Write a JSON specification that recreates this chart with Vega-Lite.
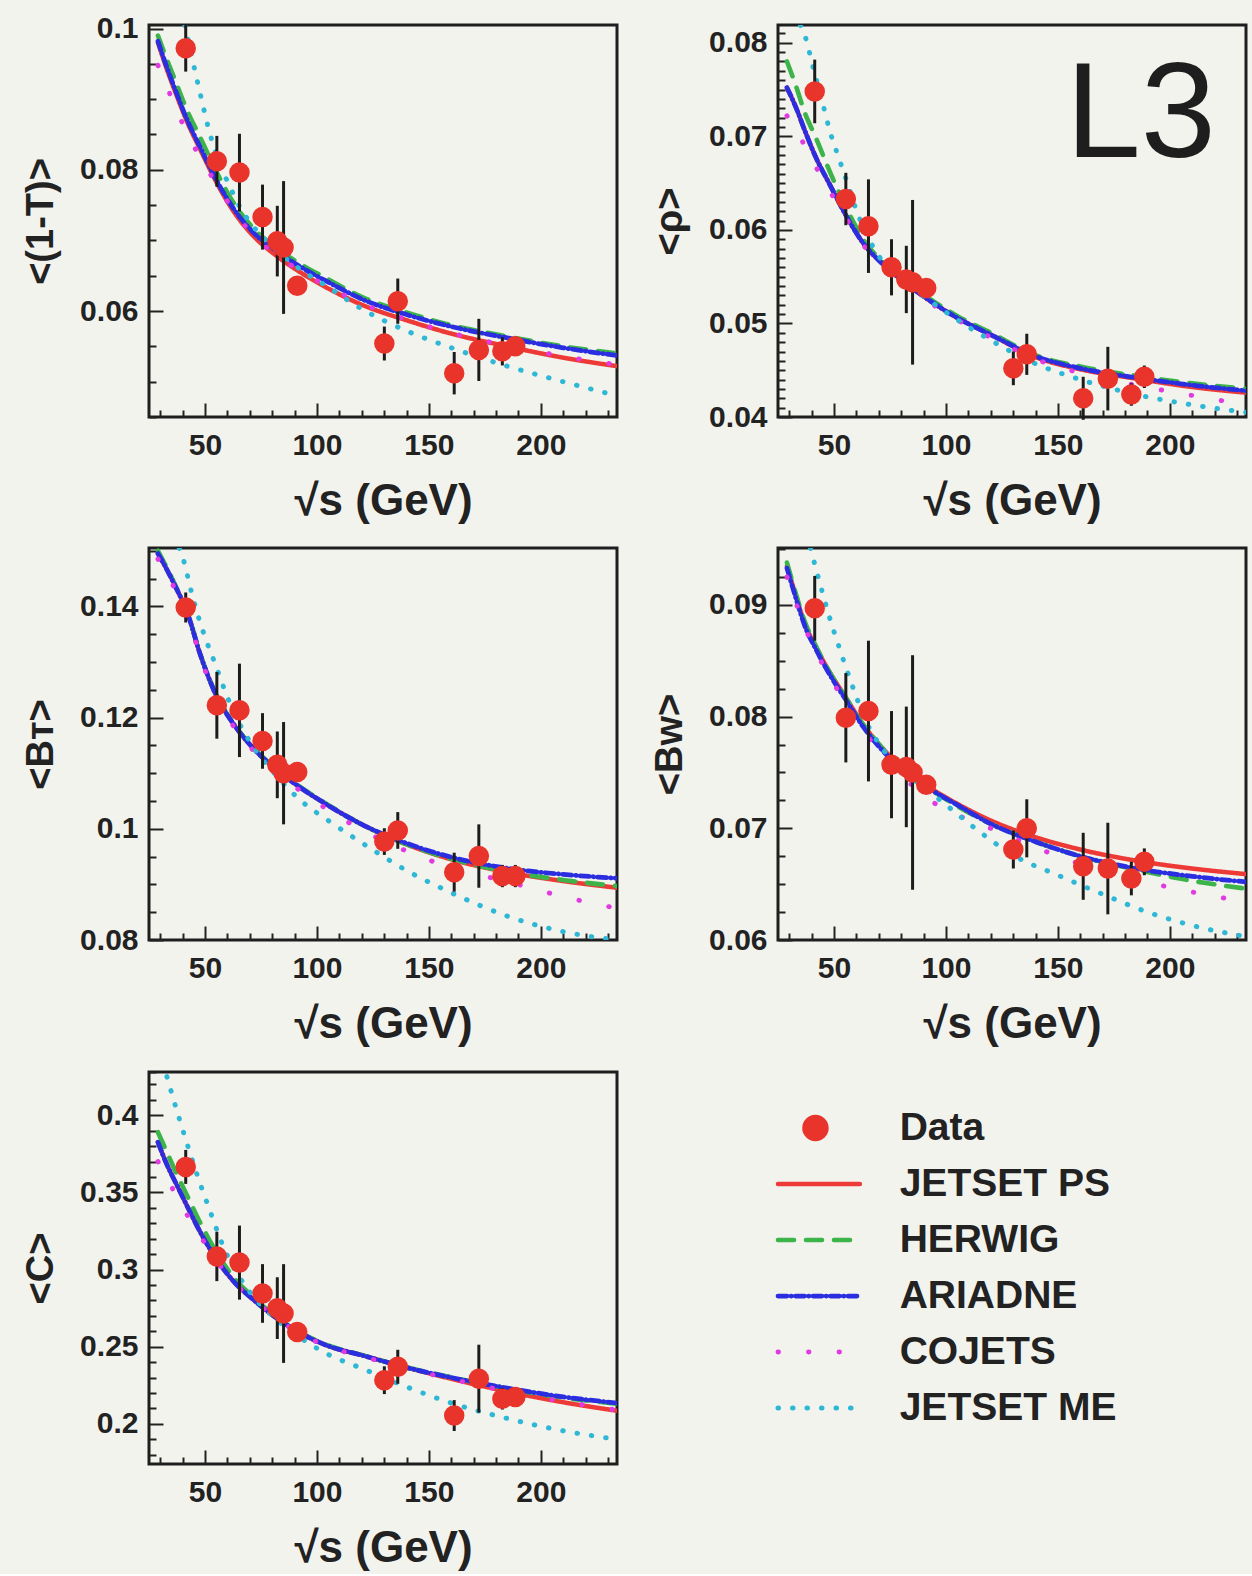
{
  "$schema": "https://vega.github.io/schema/vega-lite/v6.json",
  "background": "#f3f3ee",
  "padding": {"left": 20, "top": 12, "right": 5, "bottom": 2},
  "columns": 2,
  "spacing": {"row": 7, "column": 30},
  "config": {
    "view": {"stroke": "#1e1e1e", "strokeWidth": 3, "fill": "#f3f3ee"},
    "axis": {"domain": false, "grid": false, "labelFont": "Liberation Sans", "labelFontWeight": "bold", "labelFontSize": 30, "labelColor": "#222222", "titleFont": "Liberation Sans", "titleFontWeight": "bold", "titleColor": "#222222", "tickColor": "#222222", "tickWidth": 2, "labelFlush": false, "labelOverlap": false},
    "axisX": {"labelPadding": 27, "titleFontSize": 44, "titlePadding": 12},
    "axisY": {"labelPadding": 25, "minExtent": 72, "maxExtent": 72, "titleFontSize": 38, "titlePadding": 17}
  },
  "datasets": {
    "curves": [
      {"p":"T","m":"JETSET PS","x":29,"y":0.0980},{"p":"T","m":"JETSET PS","x":33,"y":0.0942},{"p":"T","m":"JETSET PS","x":37,"y":0.0908},{"p":"T","m":"JETSET PS","x":42,"y":0.0868},{"p":"T","m":"JETSET PS","x":48,"y":0.0828},{"p":"T","m":"JETSET PS","x":55,"y":0.0783},{"p":"T","m":"JETSET PS","x":63,"y":0.0740},{"p":"T","m":"JETSET PS","x":72,"y":0.0705},{"p":"T","m":"JETSET PS","x":82,"y":0.0678},{"p":"T","m":"JETSET PS","x":93,"y":0.0654},{"p":"T","m":"JETSET PS","x":105,"y":0.0632},{"p":"T","m":"JETSET PS","x":120,"y":0.0609},{"p":"T","m":"JETSET PS","x":140,"y":0.0587},{"p":"T","m":"JETSET PS","x":160,"y":0.0568},{"p":"T","m":"JETSET PS","x":185,"y":0.0550},{"p":"T","m":"JETSET PS","x":210,"y":0.0534},{"p":"T","m":"JETSET PS","x":234,"y":0.0522},
      {"p":"T","m":"HERWIG","x":29,"y":0.0990},{"p":"T","m":"HERWIG","x":33,"y":0.0956},{"p":"T","m":"HERWIG","x":37,"y":0.0924},{"p":"T","m":"HERWIG","x":42,"y":0.0884},{"p":"T","m":"HERWIG","x":48,"y":0.0845},{"p":"T","m":"HERWIG","x":55,"y":0.0798},{"p":"T","m":"HERWIG","x":63,"y":0.0752},{"p":"T","m":"HERWIG","x":72,"y":0.0716},{"p":"T","m":"HERWIG","x":82,"y":0.0689},{"p":"T","m":"HERWIG","x":93,"y":0.0666},{"p":"T","m":"HERWIG","x":105,"y":0.0645},{"p":"T","m":"HERWIG","x":120,"y":0.0620},{"p":"T","m":"HERWIG","x":140,"y":0.0598},{"p":"T","m":"HERWIG","x":160,"y":0.0580},{"p":"T","m":"HERWIG","x":185,"y":0.0564},{"p":"T","m":"HERWIG","x":210,"y":0.0550},{"p":"T","m":"HERWIG","x":234,"y":0.0540},
      {"p":"T","m":"ARIADNE","x":29,"y":0.0982},{"p":"T","m":"ARIADNE","x":33,"y":0.0945},{"p":"T","m":"ARIADNE","x":37,"y":0.0911},{"p":"T","m":"ARIADNE","x":42,"y":0.0871},{"p":"T","m":"ARIADNE","x":48,"y":0.0831},{"p":"T","m":"ARIADNE","x":55,"y":0.0786},{"p":"T","m":"ARIADNE","x":63,"y":0.0744},{"p":"T","m":"ARIADNE","x":72,"y":0.0710},{"p":"T","m":"ARIADNE","x":82,"y":0.0685},{"p":"T","m":"ARIADNE","x":93,"y":0.0662},{"p":"T","m":"ARIADNE","x":105,"y":0.0641},{"p":"T","m":"ARIADNE","x":120,"y":0.0617},{"p":"T","m":"ARIADNE","x":140,"y":0.0595},{"p":"T","m":"ARIADNE","x":160,"y":0.0578},{"p":"T","m":"ARIADNE","x":185,"y":0.0562},{"p":"T","m":"ARIADNE","x":210,"y":0.0548},{"p":"T","m":"ARIADNE","x":234,"y":0.0537},
      {"p":"T","m":"COJETS","x":29,"y":0.0948},{"p":"T","m":"COJETS","x":33,"y":0.0918},{"p":"T","m":"COJETS","x":37,"y":0.0886},{"p":"T","m":"COJETS","x":42,"y":0.0853},{"p":"T","m":"COJETS","x":48,"y":0.0816},{"p":"T","m":"COJETS","x":55,"y":0.0781},{"p":"T","m":"COJETS","x":63,"y":0.0741},{"p":"T","m":"COJETS","x":72,"y":0.0706},{"p":"T","m":"COJETS","x":82,"y":0.0679},{"p":"T","m":"COJETS","x":93,"y":0.0656},{"p":"T","m":"COJETS","x":105,"y":0.0634},{"p":"T","m":"COJETS","x":120,"y":0.0611},{"p":"T","m":"COJETS","x":140,"y":0.0588},{"p":"T","m":"COJETS","x":160,"y":0.0569},{"p":"T","m":"COJETS","x":185,"y":0.0551},{"p":"T","m":"COJETS","x":210,"y":0.0536},{"p":"T","m":"COJETS","x":234,"y":0.0524},
      {"p":"T","m":"JETSET ME","x":41,"y":0.1005},{"p":"T","m":"JETSET ME","x":44.6,"y":0.0953},{"p":"T","m":"JETSET ME","x":48,"y":0.0906},{"p":"T","m":"JETSET ME","x":51.3,"y":0.0862},{"p":"T","m":"JETSET ME","x":55,"y":0.0822},{"p":"T","m":"JETSET ME","x":61,"y":0.0777},{"p":"T","m":"JETSET ME","x":66,"y":0.0745},{"p":"T","m":"JETSET ME","x":72,"y":0.0718},{"p":"T","m":"JETSET ME","x":82,"y":0.0686},{"p":"T","m":"JETSET ME","x":93,"y":0.0658},{"p":"T","m":"JETSET ME","x":105,"y":0.0634},{"p":"T","m":"JETSET ME","x":120,"y":0.0603},{"p":"T","m":"JETSET ME","x":140,"y":0.0572},{"p":"T","m":"JETSET ME","x":160,"y":0.0548},{"p":"T","m":"JETSET ME","x":185,"y":0.0522},{"p":"T","m":"JETSET ME","x":210,"y":0.0500},{"p":"T","m":"JETSET ME","x":234,"y":0.0480},

      {"p":"R","m":"JETSET PS","x":29,"y":0.0752},{"p":"R","m":"JETSET PS","x":33,"y":0.0731},{"p":"R","m":"JETSET PS","x":37,"y":0.0706},{"p":"R","m":"JETSET PS","x":42,"y":0.0677},{"p":"R","m":"JETSET PS","x":48,"y":0.0649},{"p":"R","m":"JETSET PS","x":55,"y":0.0617},{"p":"R","m":"JETSET PS","x":63,"y":0.0586},{"p":"R","m":"JETSET PS","x":72,"y":0.0563},{"p":"R","m":"JETSET PS","x":82,"y":0.0543},{"p":"R","m":"JETSET PS","x":93,"y":0.0524},{"p":"R","m":"JETSET PS","x":105,"y":0.0506},{"p":"R","m":"JETSET PS","x":120,"y":0.0488},{"p":"R","m":"JETSET PS","x":140,"y":0.0464},{"p":"R","m":"JETSET PS","x":160,"y":0.0451},{"p":"R","m":"JETSET PS","x":185,"y":0.0441},{"p":"R","m":"JETSET PS","x":210,"y":0.0432},{"p":"R","m":"JETSET PS","x":234,"y":0.0426},
      {"p":"R","m":"HERWIG","x":29,"y":0.0780},{"p":"R","m":"HERWIG","x":33,"y":0.0754},{"p":"R","m":"HERWIG","x":37,"y":0.0725},{"p":"R","m":"HERWIG","x":42,"y":0.0698},{"p":"R","m":"HERWIG","x":48,"y":0.0663},{"p":"R","m":"HERWIG","x":55,"y":0.0626},{"p":"R","m":"HERWIG","x":63,"y":0.0590},{"p":"R","m":"HERWIG","x":72,"y":0.0565},{"p":"R","m":"HERWIG","x":82,"y":0.0545},{"p":"R","m":"HERWIG","x":93,"y":0.0526},{"p":"R","m":"HERWIG","x":105,"y":0.0508},{"p":"R","m":"HERWIG","x":120,"y":0.0490},{"p":"R","m":"HERWIG","x":140,"y":0.0466},{"p":"R","m":"HERWIG","x":160,"y":0.0454},{"p":"R","m":"HERWIG","x":185,"y":0.0444},{"p":"R","m":"HERWIG","x":210,"y":0.0436},{"p":"R","m":"HERWIG","x":234,"y":0.0430},
      {"p":"R","m":"ARIADNE","x":29,"y":0.0752},{"p":"R","m":"ARIADNE","x":33,"y":0.0731},{"p":"R","m":"ARIADNE","x":37,"y":0.0706},{"p":"R","m":"ARIADNE","x":42,"y":0.0677},{"p":"R","m":"ARIADNE","x":48,"y":0.0649},{"p":"R","m":"ARIADNE","x":55,"y":0.0617},{"p":"R","m":"ARIADNE","x":63,"y":0.0586},{"p":"R","m":"ARIADNE","x":72,"y":0.0563},{"p":"R","m":"ARIADNE","x":82,"y":0.0543},{"p":"R","m":"ARIADNE","x":93,"y":0.0524},{"p":"R","m":"ARIADNE","x":105,"y":0.0506},{"p":"R","m":"ARIADNE","x":120,"y":0.0488},{"p":"R","m":"ARIADNE","x":140,"y":0.0465},{"p":"R","m":"ARIADNE","x":160,"y":0.0452},{"p":"R","m":"ARIADNE","x":185,"y":0.0442},{"p":"R","m":"ARIADNE","x":210,"y":0.0434},{"p":"R","m":"ARIADNE","x":234,"y":0.0428},
      {"p":"R","m":"COJETS","x":29,"y":0.0722},{"p":"R","m":"COJETS","x":33,"y":0.0706},{"p":"R","m":"COJETS","x":37,"y":0.0690},{"p":"R","m":"COJETS","x":42,"y":0.0667},{"p":"R","m":"COJETS","x":48,"y":0.0642},{"p":"R","m":"COJETS","x":55,"y":0.0614},{"p":"R","m":"COJETS","x":63,"y":0.0584},{"p":"R","m":"COJETS","x":72,"y":0.0561},{"p":"R","m":"COJETS","x":82,"y":0.0541},{"p":"R","m":"COJETS","x":93,"y":0.0522},{"p":"R","m":"COJETS","x":105,"y":0.0504},{"p":"R","m":"COJETS","x":120,"y":0.0485},{"p":"R","m":"COJETS","x":140,"y":0.0462},{"p":"R","m":"COJETS","x":160,"y":0.0447},{"p":"R","m":"COJETS","x":185,"y":0.0434},{"p":"R","m":"COJETS","x":210,"y":0.0423},{"p":"R","m":"COJETS","x":234,"y":0.0413},
      {"p":"R","m":"JETSET ME","x":35,"y":0.0819},{"p":"R","m":"JETSET ME","x":38,"y":0.0800},{"p":"R","m":"JETSET ME","x":40,"y":0.0780},{"p":"R","m":"JETSET ME","x":42,"y":0.0762},{"p":"R","m":"JETSET ME","x":45,"y":0.0735},{"p":"R","m":"JETSET ME","x":48,"y":0.0707},{"p":"R","m":"JETSET ME","x":52,"y":0.0678},{"p":"R","m":"JETSET ME","x":56,"y":0.0650},{"p":"R","m":"JETSET ME","x":60,"y":0.0621},{"p":"R","m":"JETSET ME","x":65,"y":0.0593},{"p":"R","m":"JETSET ME","x":70,"y":0.0572},{"p":"R","m":"JETSET ME","x":76,"y":0.0556},{"p":"R","m":"JETSET ME","x":82,"y":0.0544},{"p":"R","m":"JETSET ME","x":93,"y":0.0524},{"p":"R","m":"JETSET ME","x":105,"y":0.0504},{"p":"R","m":"JETSET ME","x":120,"y":0.0482},{"p":"R","m":"JETSET ME","x":140,"y":0.0457},{"p":"R","m":"JETSET ME","x":160,"y":0.0440},{"p":"R","m":"JETSET ME","x":185,"y":0.0424},{"p":"R","m":"JETSET ME","x":210,"y":0.0413},{"p":"R","m":"JETSET ME","x":234,"y":0.0405},

      {"p":"BT","m":"JETSET PS","x":29,"y":0.1495},{"p":"BT","m":"JETSET PS","x":33,"y":0.1466},{"p":"BT","m":"JETSET PS","x":37,"y":0.1434},{"p":"BT","m":"JETSET PS","x":42,"y":0.1390},{"p":"BT","m":"JETSET PS","x":48,"y":0.1312},{"p":"BT","m":"JETSET PS","x":55,"y":0.1240},{"p":"BT","m":"JETSET PS","x":63,"y":0.1187},{"p":"BT","m":"JETSET PS","x":72,"y":0.1143},{"p":"BT","m":"JETSET PS","x":82,"y":0.1106},{"p":"BT","m":"JETSET PS","x":93,"y":0.1073},{"p":"BT","m":"JETSET PS","x":105,"y":0.1042},{"p":"BT","m":"JETSET PS","x":120,"y":0.1008},{"p":"BT","m":"JETSET PS","x":140,"y":0.0972},{"p":"BT","m":"JETSET PS","x":160,"y":0.0945},{"p":"BT","m":"JETSET PS","x":185,"y":0.0922},{"p":"BT","m":"JETSET PS","x":210,"y":0.0906},{"p":"BT","m":"JETSET PS","x":234,"y":0.0894},
      {"p":"BT","m":"HERWIG","x":29,"y":0.1500},{"p":"BT","m":"HERWIG","x":33,"y":0.1469},{"p":"BT","m":"HERWIG","x":37,"y":0.1436},{"p":"BT","m":"HERWIG","x":42,"y":0.1391},{"p":"BT","m":"HERWIG","x":48,"y":0.1313},{"p":"BT","m":"HERWIG","x":55,"y":0.1241},{"p":"BT","m":"HERWIG","x":63,"y":0.1188},{"p":"BT","m":"HERWIG","x":72,"y":0.1144},{"p":"BT","m":"HERWIG","x":82,"y":0.1107},{"p":"BT","m":"HERWIG","x":93,"y":0.1074},{"p":"BT","m":"HERWIG","x":105,"y":0.1043},{"p":"BT","m":"HERWIG","x":120,"y":0.1008},{"p":"BT","m":"HERWIG","x":140,"y":0.0972},{"p":"BT","m":"HERWIG","x":160,"y":0.0946},{"p":"BT","m":"HERWIG","x":185,"y":0.0923},{"p":"BT","m":"HERWIG","x":210,"y":0.0908},{"p":"BT","m":"HERWIG","x":234,"y":0.0897},
      {"p":"BT","m":"ARIADNE","x":29,"y":0.1495},{"p":"BT","m":"ARIADNE","x":33,"y":0.1466},{"p":"BT","m":"ARIADNE","x":37,"y":0.1434},{"p":"BT","m":"ARIADNE","x":42,"y":0.1390},{"p":"BT","m":"ARIADNE","x":48,"y":0.1312},{"p":"BT","m":"ARIADNE","x":55,"y":0.1240},{"p":"BT","m":"ARIADNE","x":63,"y":0.1187},{"p":"BT","m":"ARIADNE","x":72,"y":0.1143},{"p":"BT","m":"ARIADNE","x":82,"y":0.1106},{"p":"BT","m":"ARIADNE","x":93,"y":0.1073},{"p":"BT","m":"ARIADNE","x":105,"y":0.1042},{"p":"BT","m":"ARIADNE","x":120,"y":0.1008},{"p":"BT","m":"ARIADNE","x":140,"y":0.0974},{"p":"BT","m":"ARIADNE","x":160,"y":0.0949},{"p":"BT","m":"ARIADNE","x":185,"y":0.0929},{"p":"BT","m":"ARIADNE","x":210,"y":0.0918},{"p":"BT","m":"ARIADNE","x":234,"y":0.0911},
      {"p":"BT","m":"COJETS","x":29,"y":0.1485},{"p":"BT","m":"COJETS","x":33,"y":0.1458},{"p":"BT","m":"COJETS","x":37,"y":0.1428},{"p":"BT","m":"COJETS","x":42,"y":0.1386},{"p":"BT","m":"COJETS","x":48,"y":0.1308},{"p":"BT","m":"COJETS","x":55,"y":0.1236},{"p":"BT","m":"COJETS","x":63,"y":0.1183},{"p":"BT","m":"COJETS","x":72,"y":0.1139},{"p":"BT","m":"COJETS","x":82,"y":0.1101},{"p":"BT","m":"COJETS","x":93,"y":0.1067},{"p":"BT","m":"COJETS","x":105,"y":0.1034},{"p":"BT","m":"COJETS","x":120,"y":0.0998},{"p":"BT","m":"COJETS","x":140,"y":0.0960},{"p":"BT","m":"COJETS","x":160,"y":0.0930},{"p":"BT","m":"COJETS","x":185,"y":0.0905},{"p":"BT","m":"COJETS","x":210,"y":0.0878},{"p":"BT","m":"COJETS","x":234,"y":0.0857},
      {"p":"BT","m":"JETSET ME","x":38.5,"y":0.1505},{"p":"BT","m":"JETSET ME","x":40,"y":0.1489},{"p":"BT","m":"JETSET ME","x":44,"y":0.1425},{"p":"BT","m":"JETSET ME","x":47,"y":0.1382},{"p":"BT","m":"JETSET ME","x":50,"y":0.1345},{"p":"BT","m":"JETSET ME","x":54.5,"y":0.1297},{"p":"BT","m":"JETSET ME","x":59.4,"y":0.1243},{"p":"BT","m":"JETSET ME","x":65,"y":0.1192},{"p":"BT","m":"JETSET ME","x":72,"y":0.1145},{"p":"BT","m":"JETSET ME","x":82,"y":0.1095},{"p":"BT","m":"JETSET ME","x":93,"y":0.1050},{"p":"BT","m":"JETSET ME","x":105,"y":0.1015},{"p":"BT","m":"JETSET ME","x":120,"y":0.0975},{"p":"BT","m":"JETSET ME","x":140,"y":0.0925},{"p":"BT","m":"JETSET ME","x":160,"y":0.0885},{"p":"BT","m":"JETSET ME","x":185,"y":0.0843},{"p":"BT","m":"JETSET ME","x":210,"y":0.0815},{"p":"BT","m":"JETSET ME","x":234,"y":0.0800},

      {"p":"BW","m":"JETSET PS","x":29,"y":0.0935},{"p":"BW","m":"JETSET PS","x":33,"y":0.0908},{"p":"BW","m":"JETSET PS","x":37,"y":0.0883},{"p":"BW","m":"JETSET PS","x":42,"y":0.0862},{"p":"BW","m":"JETSET PS","x":48,"y":0.0840},{"p":"BW","m":"JETSET PS","x":55,"y":0.0818},{"p":"BW","m":"JETSET PS","x":63,"y":0.0793},{"p":"BW","m":"JETSET PS","x":72,"y":0.0771},{"p":"BW","m":"JETSET PS","x":82,"y":0.0751},{"p":"BW","m":"JETSET PS","x":93,"y":0.0736},{"p":"BW","m":"JETSET PS","x":105,"y":0.0722},{"p":"BW","m":"JETSET PS","x":120,"y":0.0707},{"p":"BW","m":"JETSET PS","x":140,"y":0.0692},{"p":"BW","m":"JETSET PS","x":160,"y":0.0681},{"p":"BW","m":"JETSET PS","x":185,"y":0.0671},{"p":"BW","m":"JETSET PS","x":210,"y":0.0664},{"p":"BW","m":"JETSET PS","x":234,"y":0.0659},
      {"p":"BW","m":"HERWIG","x":29,"y":0.0938},{"p":"BW","m":"HERWIG","x":33,"y":0.0910},{"p":"BW","m":"HERWIG","x":37,"y":0.0885},{"p":"BW","m":"HERWIG","x":42,"y":0.0863},{"p":"BW","m":"HERWIG","x":48,"y":0.0840},{"p":"BW","m":"HERWIG","x":55,"y":0.0818},{"p":"BW","m":"HERWIG","x":63,"y":0.0793},{"p":"BW","m":"HERWIG","x":72,"y":0.0771},{"p":"BW","m":"HERWIG","x":82,"y":0.0751},{"p":"BW","m":"HERWIG","x":93,"y":0.0735},{"p":"BW","m":"HERWIG","x":105,"y":0.0720},{"p":"BW","m":"HERWIG","x":120,"y":0.0704},{"p":"BW","m":"HERWIG","x":140,"y":0.0688},{"p":"BW","m":"HERWIG","x":160,"y":0.0675},{"p":"BW","m":"HERWIG","x":185,"y":0.0663},{"p":"BW","m":"HERWIG","x":210,"y":0.0653},{"p":"BW","m":"HERWIG","x":234,"y":0.0646},
      {"p":"BW","m":"ARIADNE","x":29,"y":0.0933},{"p":"BW","m":"ARIADNE","x":33,"y":0.0906},{"p":"BW","m":"ARIADNE","x":37,"y":0.0881},{"p":"BW","m":"ARIADNE","x":42,"y":0.0860},{"p":"BW","m":"ARIADNE","x":48,"y":0.0838},{"p":"BW","m":"ARIADNE","x":55,"y":0.0816},{"p":"BW","m":"ARIADNE","x":63,"y":0.0791},{"p":"BW","m":"ARIADNE","x":72,"y":0.0769},{"p":"BW","m":"ARIADNE","x":82,"y":0.0750},{"p":"BW","m":"ARIADNE","x":93,"y":0.0735},{"p":"BW","m":"ARIADNE","x":105,"y":0.0721},{"p":"BW","m":"ARIADNE","x":120,"y":0.0704},{"p":"BW","m":"ARIADNE","x":140,"y":0.0688},{"p":"BW","m":"ARIADNE","x":160,"y":0.0675},{"p":"BW","m":"ARIADNE","x":185,"y":0.0664},{"p":"BW","m":"ARIADNE","x":210,"y":0.0657},{"p":"BW","m":"ARIADNE","x":234,"y":0.0652},
      {"p":"BW","m":"COJETS","x":29,"y":0.0925},{"p":"BW","m":"COJETS","x":33,"y":0.0902},{"p":"BW","m":"COJETS","x":37,"y":0.0880},{"p":"BW","m":"COJETS","x":42,"y":0.0858},{"p":"BW","m":"COJETS","x":48,"y":0.0836},{"p":"BW","m":"COJETS","x":55,"y":0.0813},{"p":"BW","m":"COJETS","x":63,"y":0.0788},{"p":"BW","m":"COJETS","x":72,"y":0.0765},{"p":"BW","m":"COJETS","x":82,"y":0.0744},{"p":"BW","m":"COJETS","x":93,"y":0.0725},{"p":"BW","m":"COJETS","x":105,"y":0.0712},{"p":"BW","m":"COJETS","x":120,"y":0.0700},{"p":"BW","m":"COJETS","x":140,"y":0.0683},{"p":"BW","m":"COJETS","x":160,"y":0.0668},{"p":"BW","m":"COJETS","x":185,"y":0.0654},{"p":"BW","m":"COJETS","x":210,"y":0.0643},{"p":"BW","m":"COJETS","x":234,"y":0.0634},
      {"p":"BW","m":"JETSET ME","x":39.5,"y":0.0951},{"p":"BW","m":"JETSET ME","x":42,"y":0.0932},{"p":"BW","m":"JETSET ME","x":45,"y":0.0910},{"p":"BW","m":"JETSET ME","x":48,"y":0.0889},{"p":"BW","m":"JETSET ME","x":52,"y":0.0864},{"p":"BW","m":"JETSET ME","x":55,"y":0.0846},{"p":"BW","m":"JETSET ME","x":59.4,"y":0.0821},{"p":"BW","m":"JETSET ME","x":64,"y":0.0797},{"p":"BW","m":"JETSET ME","x":70,"y":0.0776},{"p":"BW","m":"JETSET ME","x":80,"y":0.0753},{"p":"BW","m":"JETSET ME","x":90,"y":0.0737},{"p":"BW","m":"JETSET ME","x":100,"y":0.0721},{"p":"BW","m":"JETSET ME","x":115,"y":0.0697},{"p":"BW","m":"JETSET ME","x":130,"y":0.0676},{"p":"BW","m":"JETSET ME","x":150,"y":0.0658},{"p":"BW","m":"JETSET ME","x":170,"y":0.0641},{"p":"BW","m":"JETSET ME","x":190,"y":0.0625},{"p":"BW","m":"JETSET ME","x":210,"y":0.0613},{"p":"BW","m":"JETSET ME","x":234,"y":0.0603},

      {"p":"C","m":"JETSET PS","x":29,"y":0.3825},{"p":"C","m":"JETSET PS","x":33,"y":0.3680},{"p":"C","m":"JETSET PS","x":37,"y":0.3560},{"p":"C","m":"JETSET PS","x":42,"y":0.3412},{"p":"C","m":"JETSET PS","x":48,"y":0.3240},{"p":"C","m":"JETSET PS","x":55,"y":0.3070},{"p":"C","m":"JETSET PS","x":63,"y":0.2920},{"p":"C","m":"JETSET PS","x":72,"y":0.2800},{"p":"C","m":"JETSET PS","x":82,"y":0.2685},{"p":"C","m":"JETSET PS","x":93,"y":0.2585},{"p":"C","m":"JETSET PS","x":105,"y":0.2505},{"p":"C","m":"JETSET PS","x":120,"y":0.2445},{"p":"C","m":"JETSET PS","x":140,"y":0.2365},{"p":"C","m":"JETSET PS","x":160,"y":0.2292},{"p":"C","m":"JETSET PS","x":185,"y":0.2210},{"p":"C","m":"JETSET PS","x":210,"y":0.2140},{"p":"C","m":"JETSET PS","x":234,"y":0.2085},
      {"p":"C","m":"HERWIG","x":29,"y":0.3890},{"p":"C","m":"HERWIG","x":33,"y":0.3760},{"p":"C","m":"HERWIG","x":37,"y":0.3630},{"p":"C","m":"HERWIG","x":42,"y":0.3480},{"p":"C","m":"HERWIG","x":48,"y":0.3300},{"p":"C","m":"HERWIG","x":55,"y":0.3115},{"p":"C","m":"HERWIG","x":63,"y":0.2945},{"p":"C","m":"HERWIG","x":72,"y":0.2815},{"p":"C","m":"HERWIG","x":82,"y":0.2690},{"p":"C","m":"HERWIG","x":93,"y":0.2588},{"p":"C","m":"HERWIG","x":105,"y":0.2508},{"p":"C","m":"HERWIG","x":120,"y":0.2447},{"p":"C","m":"HERWIG","x":140,"y":0.2367},{"p":"C","m":"HERWIG","x":160,"y":0.2302},{"p":"C","m":"HERWIG","x":185,"y":0.2228},{"p":"C","m":"HERWIG","x":210,"y":0.2170},{"p":"C","m":"HERWIG","x":234,"y":0.2130},
      {"p":"C","m":"ARIADNE","x":29,"y":0.3825},{"p":"C","m":"ARIADNE","x":33,"y":0.3680},{"p":"C","m":"ARIADNE","x":37,"y":0.3560},{"p":"C","m":"ARIADNE","x":42,"y":0.3412},{"p":"C","m":"ARIADNE","x":48,"y":0.3240},{"p":"C","m":"ARIADNE","x":55,"y":0.3070},{"p":"C","m":"ARIADNE","x":63,"y":0.2920},{"p":"C","m":"ARIADNE","x":72,"y":0.2800},{"p":"C","m":"ARIADNE","x":82,"y":0.2685},{"p":"C","m":"ARIADNE","x":93,"y":0.2585},{"p":"C","m":"ARIADNE","x":105,"y":0.2505},{"p":"C","m":"ARIADNE","x":120,"y":0.2445},{"p":"C","m":"ARIADNE","x":140,"y":0.2365},{"p":"C","m":"ARIADNE","x":160,"y":0.2300},{"p":"C","m":"ARIADNE","x":185,"y":0.2232},{"p":"C","m":"ARIADNE","x":210,"y":0.2175},{"p":"C","m":"ARIADNE","x":234,"y":0.2135},
      {"p":"C","m":"COJETS","x":29,"y":0.3700},{"p":"C","m":"COJETS","x":33,"y":0.3600},{"p":"C","m":"COJETS","x":37,"y":0.3480},{"p":"C","m":"COJETS","x":42,"y":0.3355},{"p":"C","m":"COJETS","x":48,"y":0.3215},{"p":"C","m":"COJETS","x":55,"y":0.3060},{"p":"C","m":"COJETS","x":63,"y":0.2915},{"p":"C","m":"COJETS","x":72,"y":0.2798},{"p":"C","m":"COJETS","x":82,"y":0.2683},{"p":"C","m":"COJETS","x":93,"y":0.2580},{"p":"C","m":"COJETS","x":105,"y":0.2500},{"p":"C","m":"COJETS","x":120,"y":0.2438},{"p":"C","m":"COJETS","x":140,"y":0.2360},{"p":"C","m":"COJETS","x":160,"y":0.2290},{"p":"C","m":"COJETS","x":185,"y":0.2212},{"p":"C","m":"COJETS","x":210,"y":0.2145},{"p":"C","m":"COJETS","x":234,"y":0.2090},
      {"p":"C","m":"JETSET ME","x":33,"y":0.4250},{"p":"C","m":"JETSET ME","x":36,"y":0.4100},{"p":"C","m":"JETSET ME","x":39,"y":0.3955},{"p":"C","m":"JETSET ME","x":42,"y":0.3815},{"p":"C","m":"JETSET ME","x":45,"y":0.3680},{"p":"C","m":"JETSET ME","x":48,"y":0.3550},{"p":"C","m":"JETSET ME","x":52,"y":0.3390},{"p":"C","m":"JETSET ME","x":56,"y":0.3230},{"p":"C","m":"JETSET ME","x":60,"y":0.3090},{"p":"C","m":"JETSET ME","x":65,"y":0.2960},{"p":"C","m":"JETSET ME","x":70,"y":0.2855},{"p":"C","m":"JETSET ME","x":80,"y":0.2700},{"p":"C","m":"JETSET ME","x":90,"y":0.2585},{"p":"C","m":"JETSET ME","x":105,"y":0.2450},{"p":"C","m":"JETSET ME","x":120,"y":0.2360},{"p":"C","m":"JETSET ME","x":140,"y":0.2240},{"p":"C","m":"JETSET ME","x":160,"y":0.2135},{"p":"C","m":"JETSET ME","x":185,"y":0.2035},{"p":"C","m":"JETSET ME","x":210,"y":0.1955},{"p":"C","m":"JETSET ME","x":234,"y":0.1900}
    ],
    "pts": [
      {"p":"T","x":41.4,"y":0.0972,"e":0.0033},{"p":"T","x":55.3,"y":0.0812,"e":0.0036},{"p":"T","x":65.4,"y":0.0796,"e":0.0055},{"p":"T","x":75.7,"y":0.0733,"e":0.0046},{"p":"T","x":82.3,"y":0.0699,"e":0.005},{"p":"T","x":85.1,"y":0.0690,"e":0.0094},{"p":"T","x":91.2,"y":0.0636,"e":0.0008},{"p":"T","x":130.1,"y":0.0554,"e":0.0024},{"p":"T","x":136.1,"y":0.0614,"e":0.0032},{"p":"T","x":161.3,"y":0.0512,"e":0.003},{"p":"T","x":172.3,"y":0.0545,"e":0.0044},{"p":"T","x":182.8,"y":0.0543,"e":0.002},{"p":"T","x":188.6,"y":0.0550,"e":0.0012},
      {"p":"R","x":41.4,"y":0.0748,"e":0.0034},{"p":"R","x":55.3,"y":0.0633,"e":0.0028},{"p":"R","x":65.4,"y":0.0604,"e":0.005},{"p":"R","x":75.7,"y":0.0560,"e":0.003},{"p":"R","x":82.3,"y":0.0547,"e":0.0036},{"p":"R","x":85.1,"y":0.0544,"e":0.0088},{"p":"R","x":91.2,"y":0.0538,"e":0.0008},{"p":"R","x":130.1,"y":0.0452,"e":0.0018},{"p":"R","x":136.1,"y":0.0467,"e":0.0022},{"p":"R","x":161.3,"y":0.0420,"e":0.0023},{"p":"R","x":172.3,"y":0.0441,"e":0.0034},{"p":"R","x":182.8,"y":0.0424,"e":0.0012},{"p":"R","x":188.6,"y":0.0443,"e":0.0012},
      {"p":"BT","x":41.4,"y":0.1398,"e":0.0027},{"p":"BT","x":55.3,"y":0.1222,"e":0.006},{"p":"BT","x":65.4,"y":0.1213,"e":0.0084},{"p":"BT","x":75.7,"y":0.1158,"e":0.005},{"p":"BT","x":82.3,"y":0.1115,"e":0.006},{"p":"BT","x":85.1,"y":0.1100,"e":0.0092},{"p":"BT","x":91.2,"y":0.1102,"e":0.0012},{"p":"BT","x":130.1,"y":0.0977,"e":0.0024},{"p":"BT","x":136.1,"y":0.0997,"e":0.0033},{"p":"BT","x":161.3,"y":0.0922,"e":0.0035},{"p":"BT","x":172.3,"y":0.0951,"e":0.0057},{"p":"BT","x":182.8,"y":0.0915,"e":0.002},{"p":"BT","x":188.6,"y":0.0915,"e":0.002},
      {"p":"BW","x":41.4,"y":0.0897,"e":0.0029},{"p":"BW","x":55.3,"y":0.0799,"e":0.004},{"p":"BW","x":65.4,"y":0.0805,"e":0.0063},{"p":"BW","x":75.7,"y":0.0757,"e":0.0048},{"p":"BW","x":82.3,"y":0.0755,"e":0.0054},{"p":"BW","x":85.1,"y":0.0750,"e":0.0105},{"p":"BW","x":91.2,"y":0.0739,"e":0.0008},{"p":"BW","x":130.1,"y":0.0681,"e":0.0017},{"p":"BW","x":136.1,"y":0.0700,"e":0.0026},{"p":"BW","x":161.3,"y":0.0666,"e":0.003},{"p":"BW","x":172.3,"y":0.0664,"e":0.0041},{"p":"BW","x":182.8,"y":0.0655,"e":0.0015},{"p":"BW","x":188.6,"y":0.0670,"e":0.0012},
      {"p":"C","x":41.4,"y":0.3665,"e":0.011},{"p":"C","x":55.3,"y":0.3085,"e":0.016},{"p":"C","x":65.4,"y":0.3045,"e":0.024},{"p":"C","x":75.7,"y":0.2845,"e":0.019},{"p":"C","x":82.3,"y":0.2750,"e":0.02},{"p":"C","x":85.1,"y":0.2715,"e":0.032},{"p":"C","x":91.2,"y":0.2595,"e":0.003},{"p":"C","x":130.1,"y":0.2283,"e":0.009},{"p":"C","x":136.1,"y":0.2370,"e":0.011},{"p":"C","x":161.3,"y":0.2054,"e":0.01},{"p":"C","x":172.3,"y":0.2293,"e":0.022},{"p":"C","x":182.8,"y":0.2163,"e":0.007},{"p":"C","x":188.6,"y":0.2174,"e":0.005}
    ],
    "leg": [
      {"m":"Data"},{"m":"JETSET PS"},{"m":"HERWIG"},{"m":"ARIADNE"},{"m":"COJETS"},{"m":"JETSET ME"}
    ],
    "tag": [{"t":"L3"}]
  },
  "concat": [
    {
      "width": 468, "height": 392,
      "encoding": {
        "x": {"field": "x", "type": "quantitative", "scale": {"domain": [25, 234], "nice": false, "zero": false},
          "axis": {"values": [30,40,50,60,70,80,90,100,110,120,130,140,150,160,170,180,190,200,210,220,230], "labelExpr": "datum.value % 50 === 0 ? format(datum.value, 'd') : ''", "tickSize": {"condition": {"test": "datum.value % 50 === 0", "value": -14}, "value": -7}, "title": "√s  (GeV)"}},
        "y": {"field": "y", "type": "quantitative", "scale": {"domain": [0.045, 0.1005], "nice": false, "zero": false},
          "axis": {"values": [0.045,0.05,0.055,0.06,0.065,0.07,0.075,0.08,0.085,0.09,0.095,0.1], "labelExpr": "indexof([0.06,0.08,0.1], datum.value) >= 0 ? format(datum.value, '~g') : ''", "tickSize": {"condition": {"test": "indexof([0.06,0.08,0.1], datum.value) >= 0", "value": -14}, "value": -7}, "title": "<(1-T)>"}}
      },
      "layer": [
        {"data": {"name": "curves"}, "transform": [{"filter": "datum.p === 'T'"}],
          "mark": {"type": "line", "clip": true, "strokeCap": "round", "interpolate": "monotone"},
          "encoding": {
            "color": {"field": "m", "type": "nominal", "legend": null, "scale": {"domain": ["JETSET ME","COJETS","ARIADNE","HERWIG","JETSET PS"], "range": ["#2fb7d6","#e03ae0","#2a2ee0","#3cb44a","#ee3a36"]}},
            "strokeDash": {"field": "m", "type": "nominal", "legend": null, "scale": {"domain": ["JETSET ME","COJETS","ARIADNE","HERWIG","JETSET PS"], "range": [[0.5,14],[0.5,30],[9,4,0.5,4],[16,12],[1,0]]}},
            "strokeWidth": {"field": "m", "type": "nominal", "legend": null, "scale": {"domain": ["JETSET ME","COJETS","ARIADNE","HERWIG","JETSET PS"], "range": [5, 4.5, 3.5, 3.5, 3.5]}}
          }},
        {"data": {"name": "pts"}, "transform": [{"filter": "datum.p === 'T'"}],
          "mark": {"type": "errorbar", "ticks": false, "thickness": 3, "color": "#1c1c1c"},
          "encoding": {"yError": {"field": "e"}}},
        {"data": {"name": "pts"}, "transform": [{"filter": "datum.p === 'T'"}],
          "mark": {"type": "circle", "size": 420, "color": "#e8342b", "opacity": 1}}
      ]
    },
    {
      "width": 468, "height": 392,
      "layer": [
        {"data": {"name": "curves"}, "transform": [{"filter": "datum.p === 'R'"}],
          "mark": {"type": "line", "clip": true, "strokeCap": "round", "interpolate": "monotone"},
          "encoding": {
            "x": {"field": "x", "type": "quantitative", "scale": {"domain": [25, 234], "nice": false, "zero": false},
              "axis": {"values": [30,40,50,60,70,80,90,100,110,120,130,140,150,160,170,180,190,200,210,220,230], "labelExpr": "datum.value % 50 === 0 ? format(datum.value, 'd') : ''", "tickSize": {"condition": {"test": "datum.value % 50 === 0", "value": -14}, "value": -7}, "title": "√s  (GeV)"}},
            "y": {"field": "y", "type": "quantitative", "scale": {"domain": [0.04, 0.0819], "nice": false, "zero": false},
              "axis": {"values": [0.04,0.041,0.042,0.043,0.044,0.045,0.046,0.047,0.048,0.049,0.05,0.051,0.052,0.053,0.054,0.055,0.056,0.057,0.058,0.059,0.06,0.061,0.062,0.063,0.064,0.065,0.066,0.067,0.068,0.069,0.07,0.071,0.072,0.073,0.074,0.075,0.076,0.077,0.078,0.079,0.08,0.081], "labelExpr": "indexof([0.04,0.05,0.06,0.07,0.08], datum.value) >= 0 ? format(datum.value, '~g') : ''", "tickSize": {"condition": {"test": "indexof([0.04,0.05,0.06,0.07,0.08], datum.value) >= 0", "value": -14}, "value": -7}, "title": "<ρ>"}},
            "color": {"field": "m", "type": "nominal", "legend": null, "scale": {"domain": ["JETSET ME","COJETS","ARIADNE","HERWIG","JETSET PS"], "range": ["#2fb7d6","#e03ae0","#2a2ee0","#3cb44a","#ee3a36"]}},
            "strokeDash": {"field": "m", "type": "nominal", "legend": null, "scale": {"domain": ["JETSET ME","COJETS","ARIADNE","HERWIG","JETSET PS"], "range": [[0.5,14],[0.5,30],[9,4,0.5,4],[16,12],[1,0]]}},
            "strokeWidth": {"field": "m", "type": "nominal", "legend": null, "scale": {"domain": ["JETSET ME","COJETS","ARIADNE","HERWIG","JETSET PS"], "range": [5, 4.5, 3.5, 3.5, 3.5]}}
          }},
        {"data": {"name": "pts"}, "transform": [{"filter": "datum.p === 'R'"}],
          "mark": {"type": "errorbar", "ticks": false, "thickness": 3, "color": "#1c1c1c"},
          "encoding": {
            "x": {"field": "x", "type": "quantitative", "scale": {"domain": [25, 234], "nice": false, "zero": false},
              "axis": {"values": [30,40,50,60,70,80,90,100,110,120,130,140,150,160,170,180,190,200,210,220,230], "labelExpr": "datum.value % 50 === 0 ? format(datum.value, 'd') : ''", "tickSize": {"condition": {"test": "datum.value % 50 === 0", "value": -14}, "value": -7}, "title": "√s  (GeV)"}},
            "y": {"field": "y", "type": "quantitative", "scale": {"domain": [0.04, 0.0819], "nice": false, "zero": false},
              "axis": {"values": [0.04,0.041,0.042,0.043,0.044,0.045,0.046,0.047,0.048,0.049,0.05,0.051,0.052,0.053,0.054,0.055,0.056,0.057,0.058,0.059,0.06,0.061,0.062,0.063,0.064,0.065,0.066,0.067,0.068,0.069,0.07,0.071,0.072,0.073,0.074,0.075,0.076,0.077,0.078,0.079,0.08,0.081], "labelExpr": "indexof([0.04,0.05,0.06,0.07,0.08], datum.value) >= 0 ? format(datum.value, '~g') : ''", "tickSize": {"condition": {"test": "indexof([0.04,0.05,0.06,0.07,0.08], datum.value) >= 0", "value": -14}, "value": -7}, "title": "<ρ>"}},
            "yError": {"field": "e"}}},
        {"data": {"name": "pts"}, "transform": [{"filter": "datum.p === 'R'"}],
          "mark": {"type": "circle", "size": 420, "color": "#e8342b", "opacity": 1},
          "encoding": {
            "x": {"field": "x", "type": "quantitative", "scale": {"domain": [25, 234], "nice": false, "zero": false},
              "axis": {"values": [30,40,50,60,70,80,90,100,110,120,130,140,150,160,170,180,190,200,210,220,230], "labelExpr": "datum.value % 50 === 0 ? format(datum.value, 'd') : ''", "tickSize": {"condition": {"test": "datum.value % 50 === 0", "value": -14}, "value": -7}, "title": "√s  (GeV)"}},
            "y": {"field": "y", "type": "quantitative", "scale": {"domain": [0.04, 0.0819], "nice": false, "zero": false},
              "axis": {"values": [0.04,0.041,0.042,0.043,0.044,0.045,0.046,0.047,0.048,0.049,0.05,0.051,0.052,0.053,0.054,0.055,0.056,0.057,0.058,0.059,0.06,0.061,0.062,0.063,0.064,0.065,0.066,0.067,0.068,0.069,0.07,0.071,0.072,0.073,0.074,0.075,0.076,0.077,0.078,0.079,0.08,0.081], "labelExpr": "indexof([0.04,0.05,0.06,0.07,0.08], datum.value) >= 0 ? format(datum.value, '~g') : ''", "tickSize": {"condition": {"test": "indexof([0.04,0.05,0.06,0.07,0.08], datum.value) >= 0", "value": -14}, "value": -7}, "title": "<ρ>"}}}},
        {"data": {"name": "tag"},
          "mark": {"type": "text", "font": "Liberation Sans", "fontSize": 135, "fontWeight": "normal", "color": "#1e1e1e", "align": "center", "baseline": "middle"},
          "encoding": {
            "x": {"datum": 187, "type": "quantitative", "scale": {"domain": [25, 234], "nice": false, "zero": false},
              "axis": {"values": [30,40,50,60,70,80,90,100,110,120,130,140,150,160,170,180,190,200,210,220,230], "labelExpr": "datum.value % 50 === 0 ? format(datum.value, 'd') : ''", "tickSize": {"condition": {"test": "datum.value % 50 === 0", "value": -14}, "value": -7}, "title": "√s  (GeV)"}},
            "y": {"datum": 0.0722, "type": "quantitative", "scale": {"domain": [0.04, 0.0819], "nice": false, "zero": false},
              "axis": {"values": [0.04,0.041,0.042,0.043,0.044,0.045,0.046,0.047,0.048,0.049,0.05,0.051,0.052,0.053,0.054,0.055,0.056,0.057,0.058,0.059,0.06,0.061,0.062,0.063,0.064,0.065,0.066,0.067,0.068,0.069,0.07,0.071,0.072,0.073,0.074,0.075,0.076,0.077,0.078,0.079,0.08,0.081], "labelExpr": "indexof([0.04,0.05,0.06,0.07,0.08], datum.value) >= 0 ? format(datum.value, '~g') : ''", "tickSize": {"condition": {"test": "indexof([0.04,0.05,0.06,0.07,0.08], datum.value) >= 0", "value": -14}, "value": -7}, "title": "<ρ>"}},
            "text": {"field": "t", "type": "nominal"}}}
      ]
    },
    {
      "width": 468, "height": 392,
      "encoding": {
        "x": {"field": "x", "type": "quantitative", "scale": {"domain": [25, 234], "nice": false, "zero": false},
          "axis": {"values": [30,40,50,60,70,80,90,100,110,120,130,140,150,160,170,180,190,200,210,220,230], "labelExpr": "datum.value % 50 === 0 ? format(datum.value, 'd') : ''", "tickSize": {"condition": {"test": "datum.value % 50 === 0", "value": -14}, "value": -7}, "title": "√s  (GeV)"}},
        "y": {"field": "y", "type": "quantitative", "scale": {"domain": [0.08, 0.1505], "nice": false, "zero": false},
          "axis": {"values": [0.08,0.085,0.09,0.095,0.1,0.105,0.11,0.115,0.12,0.125,0.13,0.135,0.14,0.145,0.15], "labelExpr": "indexof([0.08,0.1,0.12,0.14], datum.value) >= 0 ? format(datum.value, '~g') : ''", "tickSize": {"condition": {"test": "indexof([0.08,0.1,0.12,0.14], datum.value) >= 0", "value": -14}, "value": -7}, "title": "<Bᴛ>"}}
      },
      "layer": [
        {"data": {"name": "curves"}, "transform": [{"filter": "datum.p === 'BT'"}],
          "mark": {"type": "line", "clip": true, "strokeCap": "round", "interpolate": "monotone"},
          "encoding": {
            "color": {"field": "m", "type": "nominal", "legend": null, "scale": {"domain": ["JETSET ME","COJETS","ARIADNE","HERWIG","JETSET PS"], "range": ["#2fb7d6","#e03ae0","#2a2ee0","#3cb44a","#ee3a36"]}},
            "strokeDash": {"field": "m", "type": "nominal", "legend": null, "scale": {"domain": ["JETSET ME","COJETS","ARIADNE","HERWIG","JETSET PS"], "range": [[0.5,14],[0.5,30],[9,4,0.5,4],[16,12],[1,0]]}},
            "strokeWidth": {"field": "m", "type": "nominal", "legend": null, "scale": {"domain": ["JETSET ME","COJETS","ARIADNE","HERWIG","JETSET PS"], "range": [5, 4.5, 3.5, 3.5, 3.5]}}
          }},
        {"data": {"name": "pts"}, "transform": [{"filter": "datum.p === 'BT'"}],
          "mark": {"type": "errorbar", "ticks": false, "thickness": 3, "color": "#1c1c1c"},
          "encoding": {"yError": {"field": "e"}}},
        {"data": {"name": "pts"}, "transform": [{"filter": "datum.p === 'BT'"}],
          "mark": {"type": "circle", "size": 420, "color": "#e8342b", "opacity": 1}}
      ]
    },
    {
      "width": 468, "height": 392,
      "encoding": {
        "x": {"field": "x", "type": "quantitative", "scale": {"domain": [25, 234], "nice": false, "zero": false},
          "axis": {"values": [30,40,50,60,70,80,90,100,110,120,130,140,150,160,170,180,190,200,210,220,230], "labelExpr": "datum.value % 50 === 0 ? format(datum.value, 'd') : ''", "tickSize": {"condition": {"test": "datum.value % 50 === 0", "value": -14}, "value": -7}, "title": "√s  (GeV)"}},
        "y": {"field": "y", "type": "quantitative", "scale": {"domain": [0.06, 0.0951], "nice": false, "zero": false},
          "axis": {"values": [0.06,0.0625,0.065,0.0675,0.07,0.0725,0.075,0.0775,0.08,0.0825,0.085,0.0875,0.09,0.0925,0.095], "labelExpr": "indexof([0.06,0.07,0.08,0.09], datum.value) >= 0 ? format(datum.value, '~g') : ''", "tickSize": {"condition": {"test": "indexof([0.06,0.07,0.08,0.09], datum.value) >= 0", "value": -14}, "value": -7}, "title": "<Bᴡ>"}}
      },
      "layer": [
        {"data": {"name": "curves"}, "transform": [{"filter": "datum.p === 'BW'"}],
          "mark": {"type": "line", "clip": true, "strokeCap": "round", "interpolate": "monotone"},
          "encoding": {
            "color": {"field": "m", "type": "nominal", "legend": null, "scale": {"domain": ["JETSET ME","COJETS","ARIADNE","HERWIG","JETSET PS"], "range": ["#2fb7d6","#e03ae0","#2a2ee0","#3cb44a","#ee3a36"]}},
            "strokeDash": {"field": "m", "type": "nominal", "legend": null, "scale": {"domain": ["JETSET ME","COJETS","ARIADNE","HERWIG","JETSET PS"], "range": [[0.5,14],[0.5,30],[9,4,0.5,4],[16,12],[1,0]]}},
            "strokeWidth": {"field": "m", "type": "nominal", "legend": null, "scale": {"domain": ["JETSET ME","COJETS","ARIADNE","HERWIG","JETSET PS"], "range": [5, 4.5, 3.5, 3.5, 3.5]}}
          }},
        {"data": {"name": "pts"}, "transform": [{"filter": "datum.p === 'BW'"}],
          "mark": {"type": "errorbar", "ticks": false, "thickness": 3, "color": "#1c1c1c"},
          "encoding": {"yError": {"field": "e"}}},
        {"data": {"name": "pts"}, "transform": [{"filter": "datum.p === 'BW'"}],
          "mark": {"type": "circle", "size": 420, "color": "#e8342b", "opacity": 1}}
      ]
    },
    {
      "width": 468, "height": 392,
      "encoding": {
        "x": {"field": "x", "type": "quantitative", "scale": {"domain": [25, 234], "nice": false, "zero": false},
          "axis": {"values": [30,40,50,60,70,80,90,100,110,120,130,140,150,160,170,180,190,200,210,220,230], "labelExpr": "datum.value % 50 === 0 ? format(datum.value, 'd') : ''", "tickSize": {"condition": {"test": "datum.value % 50 === 0", "value": -14}, "value": -7}, "title": "√s  (GeV)"}},
        "y": {"field": "y", "type": "quantitative", "scale": {"domain": [0.174, 0.428], "nice": false, "zero": false},
          "axis": {"values": [0.18,0.19,0.2,0.21,0.22,0.23,0.24,0.25,0.26,0.27,0.28,0.29,0.3,0.31,0.32,0.33,0.34,0.35,0.36,0.37,0.38,0.39,0.4,0.41,0.42,0.428], "labelExpr": "indexof([0.2,0.25,0.3,0.35,0.4], datum.value) >= 0 ? format(datum.value, '~g') : ''", "tickSize": {"condition": {"test": "indexof([0.2,0.25,0.3,0.35,0.4], datum.value) >= 0", "value": -14}, "value": -7}, "title": "<C>"}}
      },
      "layer": [
        {"data": {"name": "curves"}, "transform": [{"filter": "datum.p === 'C'"}],
          "mark": {"type": "line", "clip": true, "strokeCap": "round", "interpolate": "monotone"},
          "encoding": {
            "color": {"field": "m", "type": "nominal", "legend": null, "scale": {"domain": ["JETSET ME","COJETS","ARIADNE","HERWIG","JETSET PS"], "range": ["#2fb7d6","#e03ae0","#2a2ee0","#3cb44a","#ee3a36"]}},
            "strokeDash": {"field": "m", "type": "nominal", "legend": null, "scale": {"domain": ["JETSET ME","COJETS","ARIADNE","HERWIG","JETSET PS"], "range": [[0.5,14],[0.5,30],[9,4,0.5,4],[16,12],[1,0]]}},
            "strokeWidth": {"field": "m", "type": "nominal", "legend": null, "scale": {"domain": ["JETSET ME","COJETS","ARIADNE","HERWIG","JETSET PS"], "range": [5, 4.5, 3.5, 3.5, 3.5]}}
          }},
        {"data": {"name": "pts"}, "transform": [{"filter": "datum.p === 'C'"}],
          "mark": {"type": "errorbar", "ticks": false, "thickness": 3, "color": "#1c1c1c"},
          "encoding": {"yError": {"field": "e"}}},
        {"data": {"name": "pts"}, "transform": [{"filter": "datum.p === 'C'"}],
          "mark": {"type": "circle", "size": 420, "color": "#e8342b", "opacity": 1}}
      ]
    },
    {
      "width": 468, "height": 392,
      "view": {"stroke": null},
      "data": {"name": "leg"},
      "encoding": {
        "y": {"field": "m", "type": "nominal", "axis": null, "scale": {"type": "point", "padding": 1.1, "domain": ["Data","JETSET PS","HERWIG","ARIADNE","COJETS","JETSET ME"]}}
      },
      "layer": [
        {"transform": [{"filter": "datum.m === 'Data'"}],
          "mark": {"type": "circle", "size": 700, "color": "#e8342b", "opacity": 1},
          "encoding": {"x": {"datum": 0.8, "type": "quantitative", "scale": {"domain": [0, 10]}, "axis": null}}},
        {"transform": [{"filter": "datum.m !== 'Data'"}],
          "mark": {"type": "rule", "strokeCap": "round"},
          "encoding": {
            "x": {"datum": 0.0, "type": "quantitative", "scale": {"domain": [0, 10]}, "axis": null},
            "x2": {"datum": 1.75},
            "color": {"field": "m", "type": "nominal", "legend": null, "scale": {"domain": ["JETSET ME","COJETS","ARIADNE","HERWIG","JETSET PS"], "range": ["#2fb7d6","#e03ae0","#2a2ee0","#3cb44a","#ee3a36"]}},
            "strokeDash": {"field": "m", "type": "nominal", "legend": null, "scale": {"domain": ["JETSET ME","COJETS","ARIADNE","HERWIG","JETSET PS"], "range": [[0.5,14],[0.5,30],[9,4,0.5,4],[16,12],[1,0]]}},
            "strokeWidth": {"field": "m", "type": "nominal", "legend": null, "scale": {"domain": ["JETSET ME","COJETS","ARIADNE","HERWIG","JETSET PS"], "range": [5, 4.5, 3.5, 3.5, 3.5]}}
          }},
        {"mark": {"type": "text", "align": "left", "baseline": "middle", "font": "Liberation Sans", "fontWeight": "bold", "fontSize": 39, "color": "#222222"},
          "encoding": {"x": {"datum": 2.6, "type": "quantitative", "scale": {"domain": [0, 10]}, "axis": null}, "text": {"field": "m"}}}
      ]
    }
  ]
}
